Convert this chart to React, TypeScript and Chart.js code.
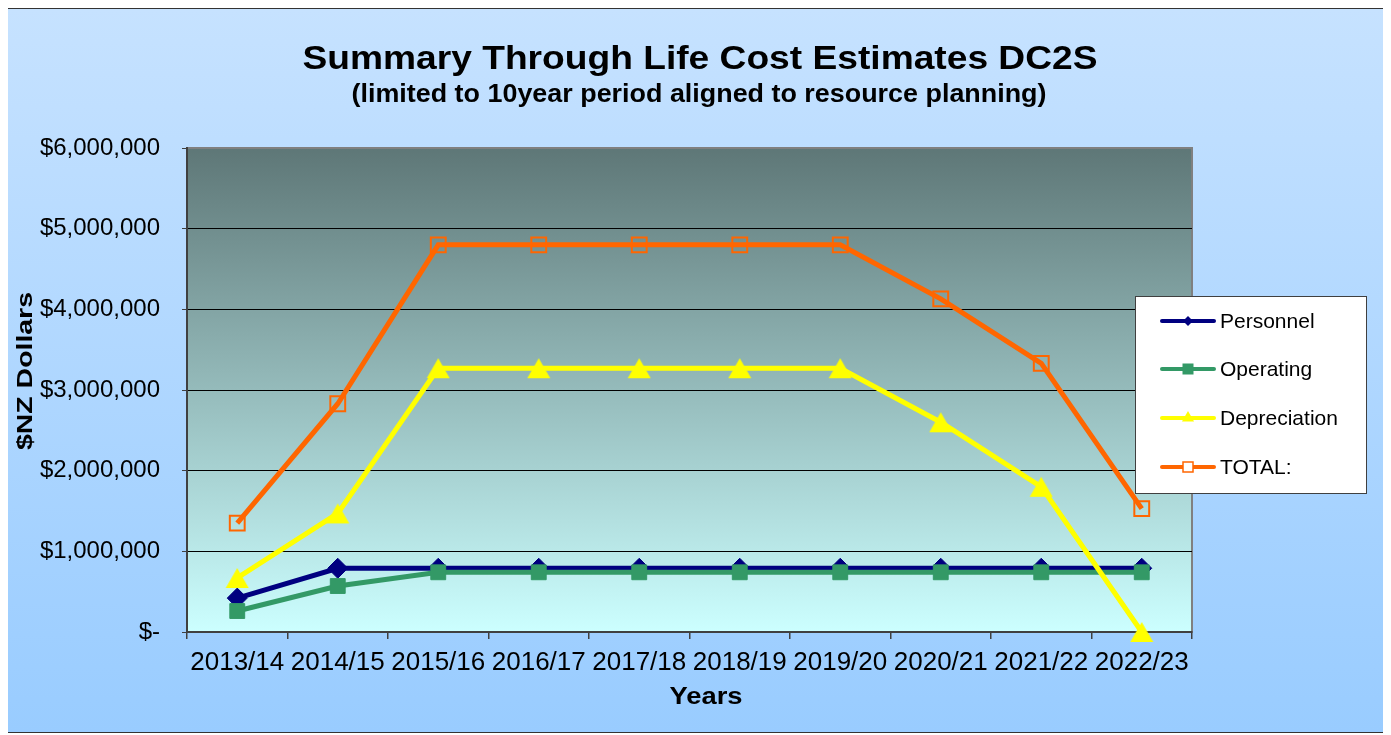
import React, { useEffect, useRef } from "react";
import { Chart, registerables } from "chart.js";

Chart.register(...registerables);

const categories = ["2013/14", "2014/15", "2015/16", "2016/17", "2017/18", "2018/19", "2019/20", "2020/21", "2021/22", "2022/23"];
const personnel = [420000, 790000, 790000, 790000, 790000, 790000, 790000, 790000, 790000, 790000];
const operating = [260000, 570000, 740000, 740000, 740000, 740000, 740000, 740000, 740000, 740000];
const depreciation = [670000, 1470000, 3270000, 3270000, 3270000, 3270000, 3270000, 2600000, 1800000, 0];
const total = [1350000, 2830000, 4800000, 4800000, 4800000, 4800000, 4800000, 4130000, 3330000, 1530000];
const yTicks = [0, 1000000, 2000000, 3000000, 4000000, 5000000, 6000000];

const titleText = "Summary Through Life Cost Estimates DC2S";
const subtitleText = "(limited to 10year period aligned to resource planning)";
const xTitle = "Years";
const yTitle = "$NZ Dollars";

const FONT = '"Liberation Sans", Arial, sans-serif';

const seriesStyles = [
  { label: "Personnel", data: personnel, color: "#000080", style: "rectRot", r: 10, fill: "#000080", lr: 5 },
  { label: "Operating", data: operating, color: "#339966", style: "rect", r: 10.5, fill: "#339966", lr: 7.5 },
  { label: "Depreciation", data: depreciation, color: "#FFFF00", style: "triangle", r: 13, fill: "#FFFF00", lr: 7 },
  { label: "TOTAL:", data: total, color: "#FF6600", style: "rect", r: 10.5, fill: "rgba(0,0,0,0)", lr: 7.5 },
];

function makeTriangle(color: string): HTMLCanvasElement {
  const c = document.createElement("canvas");
  c.width = 24;
  c.height = 22;
  const x = c.getContext("2d")!;
  x.fillStyle = color;
  x.beginPath();
  x.moveTo(12, 1);
  x.lineTo(23.5, 21);
  x.lineTo(0.5, 21);
  x.closePath();
  x.fill();
  return c;
}

function drawFitText(ctx: CanvasRenderingContext2D, text: string, x: number, y: number, font: string, width: number, rotate = false) {
  ctx.save();
  ctx.font = font;
  const w = ctx.measureText(text).width;
  ctx.translate(x, y);
  if (rotate) ctx.rotate(-Math.PI / 2);
  ctx.scale(width / w, 1);
  ctx.fillStyle = "#000";
  ctx.textAlign = "center";
  ctx.textBaseline = "middle";
  ctx.fillText(text, 0, 0);
  ctx.restore();
}

const decorPlugin = {
  id: "decor",
  beforeDraw(chart: any) {
    const { ctx, chartArea: a } = chart;
    const g = ctx.createLinearGradient(0, a.top, 0, a.bottom);
    g.addColorStop(0, "#5E7777");
    g.addColorStop(1, "#CCFFFF");
    ctx.save();
    ctx.fillStyle = g;
    ctx.fillRect(a.left, a.top, a.right - a.left, a.bottom - a.top);
    ctx.strokeStyle = "#808080";
    ctx.lineWidth = 2;
    ctx.strokeRect(a.left, a.top, a.right - a.left, a.bottom - a.top);
    ctx.restore();
  },
  afterDraw(chart: any) {
    const ctx: CanvasRenderingContext2D = chart.ctx;
    drawFitText(ctx, titleText, 692, 51, `bold 33px ${FONT}`, 795);
    drawFitText(ctx, subtitleText, 691, 86, `bold 26px ${FONT}`, 695);
    drawFitText(ctx, xTitle, 698, 688, `bold 24px ${FONT}`, 73);
    drawFitText(ctx, yTitle, 18, 362, `bold 22px ${FONT}`, 158, true);

    // legend
    const lx = 1127, ly = 287, lw = 231, lh = 197;
    ctx.save();
    ctx.fillStyle = "#FFFFFF";
    ctx.fillRect(lx, ly, lw, lh);
    ctx.strokeStyle = "#404040";
    ctx.lineWidth = 1;
    ctx.strokeRect(lx + 0.5, ly + 0.5, lw, lh);
    const rows = [312, 360, 409, 458];
    seriesStyles.forEach((s, i) => {
      const y = rows[i];
      ctx.strokeStyle = s.color;
      ctx.lineWidth = 4;
      ctx.lineCap = "round";
      ctx.beginPath();
      ctx.moveTo(1154, y);
      ctx.lineTo(1206, y);
      ctx.stroke();
      ctx.lineCap = "butt";
      const mx = 1180;
      if (s.style === "rectRot") {
        ctx.fillStyle = s.color;
        ctx.beginPath();
        ctx.moveTo(mx, y - s.lr);
        ctx.lineTo(mx + s.lr, y);
        ctx.lineTo(mx, y + s.lr);
        ctx.lineTo(mx - s.lr, y);
        ctx.closePath();
        ctx.fill();
      } else if (s.style === "triangle") {
        ctx.fillStyle = s.color;
        ctx.beginPath();
        ctx.moveTo(mx, y - s.lr);
        ctx.lineTo(mx + s.lr * 0.866, y + s.lr / 2);
        ctx.lineTo(mx - s.lr * 0.866, y + s.lr / 2);
        ctx.closePath();
        ctx.fill();
      } else if (s.fill === "rgba(0,0,0,0)") {
        ctx.fillStyle = "#FFFFFF";
        ctx.fillRect(mx - 5, y - 5, 10, 10);
        ctx.strokeStyle = s.color;
        ctx.lineWidth = 1.5;
        ctx.strokeRect(mx - 5, y - 5, 10, 10);
      } else {
        ctx.fillStyle = s.color;
        ctx.fillRect(mx - 5.5, y - 5.5, 11, 11);
      }
      ctx.fillStyle = "#000";
      ctx.font = `21px ${FONT}`;
      ctx.textAlign = "left";
      ctx.textBaseline = "middle";
      ctx.fillText(s.label, 1212, y + 1);
    });
    ctx.restore();
  },
};

export default function App() {
  const ref = useRef<HTMLCanvasElement | null>(null);
  useEffect(() => {
    if (!ref.current) return;
    const order = [3, 2, 1, 0];
    const chart = new Chart(ref.current, {
      type: "line",
      data: {
        labels: categories,
        datasets: seriesStyles.map((s, i) => ({
          label: s.label,
          data: s.data,
          borderColor: s.color,
          backgroundColor: s.fill,
          borderWidth: 5,
          pointStyle: (s.style === "triangle" ? makeTriangle(s.color) : s.style) as any,
          pointRadius: s.r,
          pointHoverRadius: s.r,
          pointBackgroundColor: s.fill,
          pointBorderColor: s.color,
          pointBorderWidth: i === 3 ? 2 : 1,
          tension: 0,
          fill: false,
          clip: false as any,
          order: order[i],
        })),
      },
      options: {
        animation: false,
        responsive: false,
        events: [],
        layout: { padding: { top: 139, right: 192, left: 0, bottom: 0 } },
        plugins: {
          legend: { display: false },
          title: { display: false },
          tooltip: { enabled: false },
        },
        scales: {
          x: {
            type: "category",
            offset: true,
            grid: {
              offset: true,
              drawOnChartArea: false,
              drawTicks: true,
              tickLength: 7,
              color: "#404040",
              lineWidth: 1.5,
            },
            border: { color: "#404040", width: 2 },
            ticks: {
              autoSkip: false,
              maxRotation: 0,
              minRotation: 0,
              padding: 8,
              color: "#000",
              font: { family: FONT, size: 26 },
            },
            afterFit(scale: any) {
              scale.height = 98;
            },
          },
          y: {
            min: 0,
            max: 6000000,
            afterBuildTicks(scale: any) {
              scale.ticks = yTicks.map((v) => ({ value: v }));
            },
            grid: {
              color: (c: any) => (c.tick && c.tick.value === 6000000 ? "#808080" : "#000000"),
              lineWidth: 1,
              tickLength: 5,
              tickColor: "#404040",
            },
            border: { color: "#404040", width: 2 },
            ticks: {
              padding: 22,
              color: "#000",
              font: { family: FONT, size: 24 },
              callback: (v: any) => (Number(v) === 0 ? "$-" : "$" + Number(v).toLocaleString("en-US")),
            },
            afterFit(scale: any) {
              scale.width = 179;
            },
          },
        },
      },
      plugins: [decorPlugin],
    } as any);
    return () => chart.destroy();
  }, []);

  return (
    <div
      style={{
        marginLeft: -1,
        width: 1376,
        height: 723,
        border: "1px solid #333",
        background: "linear-gradient(to bottom, #C6E2FF, #99CCFF)",
      }}
    >
      <canvas ref={ref} width={1376} height={721} style={{ display: "block" }} />
    </div>
  );
}
